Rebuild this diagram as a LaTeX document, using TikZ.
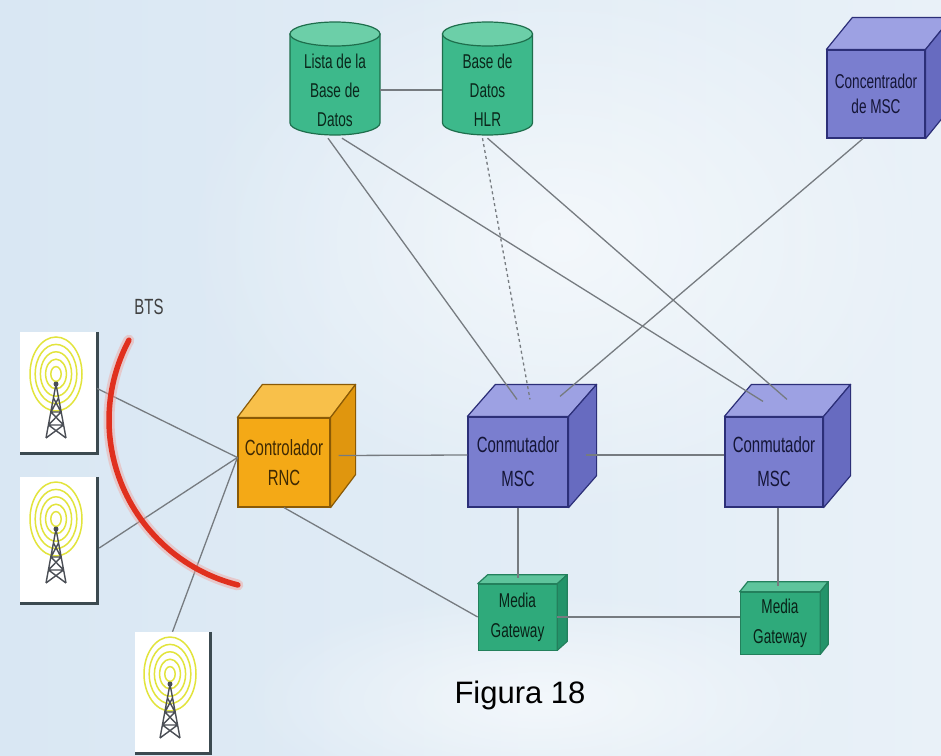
\documentclass[tikz,border=0pt]{standalone}
\usepackage{fontspec}
\setmainfont{Liberation Sans}
\newfontfamily\narrowsf[FakeStretch=0.68]{Liberation Sans}
\usetikzlibrary{calc,fadings}

\definecolor{bgleft}{HTML}{D9E7F3}
\definecolor{bgright}{HTML}{E9F1F8}
\definecolor{cylbody}{HTML}{3DB98B}
\definecolor{cyltop}{HTML}{6CCFA8}
\definecolor{cylline}{HTML}{1E6E4C}
\definecolor{mscfront}{HTML}{7A7ECF}
\definecolor{msctop}{HTML}{9DA1E3}
\definecolor{mscside}{HTML}{676BC0}
\definecolor{mscline}{HTML}{2C2F78}
\definecolor{rncfront}{HTML}{F4A916}
\definecolor{rnctop}{HTML}{F8C04A}
\definecolor{rncside}{HTML}{E0960E}
\definecolor{rncline}{HTML}{8A5A06}
\definecolor{mgfront}{HTML}{2FAA7B}
\definecolor{mgtop}{HTML}{5EC49C}
\definecolor{mgside}{HTML}{23946A}
\definecolor{wire}{HTML}{767B80}
\definecolor{arcred}{HTML}{E0301E}
\definecolor{ringy}{HTML}{E2E43C}
\definecolor{towerc}{HTML}{4A4E55}
\definecolor{panelrule}{HTML}{3C4A50}

% soft radial glow for the backdrop
\tikzfading[name=softglow, inner color=transparent!0, outer color=transparent!100]

\tikzset{
  boxlabel/.style={rectangle, inner sep=0pt, align=center,
    font=\narrowsf\fontsize{22}{34}\selectfont},
  dbnode/.style={boxlabel, minimum width=90pt, minimum height=88pt,
    font=\narrowsf\fontsize{20}{29}\selectfont, text=cylline!35!black},
  mscbox/.style={boxlabel, fill=mscfront, draw=mscline, line width=1.2pt,
    text=mscline!45!black},
  rncbox/.style={boxlabel, fill=rncfront, draw=rncline, line width=1.2pt,
    text=rncline!45!black, font=\narrowsf\fontsize{22}{30}\selectfont},
  mgbox/.style={boxlabel, fill=mgfront, draw=mgfront!75!black, line width=0.6pt,
    text=cylline!30!black, font=\narrowsf\fontsize{20}{30}\selectfont},
  panel/.style={rectangle, fill=white, inner sep=0pt},
  wireline/.style={draw=wire, line width=1.3pt},
  dashwire/.style={wireline, dash pattern=on 3pt off 3pt},
}

% top and right faces of a box whose front face is node #1
\newcommand\cubefaces[6]{%
  \filldraw[fill=#4, draw=#6, line width=1.2pt, line join=round]
    (#1.north west) -- ++(#2,#3) -- ($(#1.north east)+(#2,#3)$) -- (#1.north east) -- cycle;
  \filldraw[fill=#5, draw=#6, line width=1.2pt, line join=round]
    (#1.north east) -- ($(#1.north east)+(#2,#3)$) -- ($(#1.south east)+(#2,#3)$)
    -- (#1.south east) -- cycle;
}

% database cylinder: centre x, top ellipse y, bottom ellipse y
\newcommand\dbcyl[3]{%
  \filldraw[fill=cylbody, draw=cylline, line width=1.2pt]
    ({#1-45},#2) -- ({#1-45},#3)
    .. controls ({#1-45},{#3+6.6}) and ({#1-24.8},{#3+12}) .. (#1,{#3+12})
    .. controls ({#1+24.8},{#3+12}) and ({#1+45},{#3+6.6}) .. ({#1+45},#3)
    -- ({#1+45},#2) -- cycle;
  \filldraw[fill=cyltop, draw=cylline, line width=1.2pt]
    (#1,#2) ellipse [x radius=45, y radius=12];
}

% antenna tower with radio rings: centre x, panel top y
\newcommand\btstower[2]{%
  \foreach \r in {1,...,5}
    \draw[ringy, line width=1.5pt] (#1,{#2+42}) ellipse [x radius={5.2*\r}, y radius={7.4*\r}];
  \draw[towerc, line width=1.4pt, line join=round]
    (#1,{#2+52}) -- ({#1-10},{#2+106})
    (#1,{#2+52}) -- ({#1+10},{#2+106})
    ({#1-2.5},{#2+66}) -- ({#1+5},{#2+80}) -- ({#1-7.5},{#2+93}) -- ({#1+10},{#2+106})
    ({#1+2.5},{#2+66}) -- ({#1-5},{#2+80}) -- ({#1+7.5},{#2+93}) -- ({#1-10},{#2+106})
    ({#1-5},{#2+80}) -- ({#1+5},{#2+80})
    ({#1-7.5},{#2+93}) -- ({#1+7.5},{#2+93});
  \fill[towerc] (#1,{#2+52}) circle [radius=2.5];
}

\begin{document}
\begin{tikzpicture}[x=1pt, y=-1pt]
\useasboundingbox (0,0) rectangle (941,755);
\clip (0,0) rectangle (941,755);

% background
\shade[left color=bgleft, right color=bgright] (0,0) rectangle (941,755);
\fill[white, opacity=0.6, path fading=softglow]
  (560,240) ellipse [x radius=380, y radius=280];
\fill[white, opacity=0.6, path fading=softglow]
  (540,700) ellipse [x radius=300, y radius=110];

% databases
\dbcyl{335}{34}{123}
\dbcyl{487.5}{34}{123}
\node[dbnode] (lista) at (335,90) {Lista de la\\Base de\\Datos};
\node[dbnode] (hlr) at (487.5,90) {Base de\\Datos\\HLR};

% switching equipment
\node[mscbox, minimum width=98pt, minimum height=88pt, font=\narrowsf\fontsize{20}{25}\selectfont]
  (conc) at (876,94) {Concentrador\\de MSC};
\cubefaces{conc}{26}{-32}{msctop}{mscside}{mscline}

\node[rncbox, minimum width=92pt, minimum height=89pt] (rnc) at (284,462.5) {Controlador\\RNC};
\cubefaces{rnc}{25}{-33}{rnctop}{rncside}{rncline}

\node[mscbox, minimum width=100pt, minimum height=90pt] (msc1) at (518,462) {Conmutador\\MSC};
\cubefaces{msc1}{28}{-32}{msctop}{mscside}{mscline}

\node[mscbox, minimum width=98pt, minimum height=90pt] (msc2) at (774,462) {Conmutador\\MSC};
\cubefaces{msc2}{27}{-32}{msctop}{mscside}{mscline}

\node[mgbox, minimum width=79pt, minimum height=66pt] (mg1) at (517.5,617) {Media\\Gateway};
\cubefaces{mg1}{10}{-9}{mgtop}{mgside}{mgfront!75!black}

\node[mgbox, minimum width=80pt, minimum height=62pt] (mg2) at (780,623) {Media\\Gateway};
\cubefaces{mg2}{8}{-10}{mgtop}{mgside}{mgfront!75!black}

% base stations
\node[panel, minimum width=77pt, minimum height=121pt] (bts1) at (58.5,392.5) {};
\node[panel, minimum width=77pt, minimum height=126pt] (bts2) at (58.5,540) {};
\node[panel, minimum width=75pt, minimum height=121pt] (bts3) at (172.5,692.5) {};
\foreach \p in {bts1,bts2,bts3}
  \draw[panelrule, line width=3pt] (\p.north east) -- (\p.south east) -- (\p.south west);
\btstower{56}{332}
\btstower{56}{477}
\btstower{170}{632}

% links
\coordinate (rncin) at ($(rnc.west)+(0,-5)$);
\draw[wireline] (lista.east) -- (hlr.west);
\draw[wireline] ($(lista.south)+(-7,4)$) -- ($(msc1.north)+(-1,-17)$);
\draw[wireline] ($(lista.south)+(7,4)$) -- ($(msc2.north)+(-11,-15)$);
\draw[dashwire] ($(hlr.south)+(-5,4)$) -- ($(msc1.north)+(12,-17)$);
\draw[wireline] ($(hlr.south)+(0,4)$) -- ($(msc2.north)+(13,-17)$);
\draw[wireline] ($(conc.south)+(-13,0)$) -- ($(msc1.north)+(42,-20)$);
\draw[wireline] ($(rnc.east)+(8,-7)$) -- ($(msc1.west)+(0,-7)$);
\draw[wireline] ($(msc1.east)+(17,-7)$) -- ($(msc2.west)+(0,-7)$);
\draw[wireline] (msc1.south) -- ($(msc1.south |- mg1.north)+(0,-6)$);
\draw[wireline] ($(msc2.south)+(4,0)$) -- ($(msc2.south |- mg2.north)+(4,-6)$);
\draw[wireline] (mg1.east) -- (mg1.east -| mg2.west);
\draw[wireline] (rnc.south) -- (mg1.west);
\draw[wireline] (rncin) -- ($(bts1.east)+(0,-4)$);
\draw[wireline] (rncin) -- ($(bts2.east)+(2,8)$);
\draw[wireline] (rncin) -- (bts3.north);

% radio coverage arc
\draw[arcred!45, line width=11pt, opacity=0.45, line cap=round]
  plot[domain=104:208, samples=60] ({279+170*cos(\x)},{420+170*sin(\x)});
\draw[arcred, line width=5.5pt, line cap=round]
  plot[domain=104:208, samples=60] ({279+170*cos(\x)},{420+170*sin(\x)});

% captions
\node[text=black!75, font=\narrowsf\fontsize{22}{26}\selectfont] (btslabel) at (149,307) {BTS};
\node[font=\fontsize{31}{37}\selectfont] (caption) at (520,695) {Figura 18};
\end{tikzpicture}
\end{document}
